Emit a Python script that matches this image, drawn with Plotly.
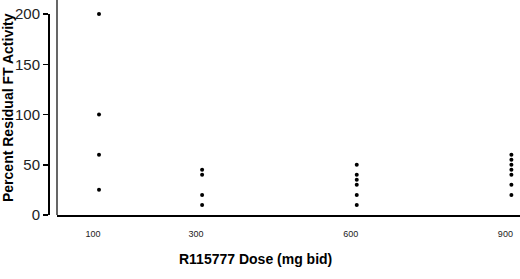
import plotly.graph_objects as go

# Data
dose_100 = [200, 100, 60, 25]
dose_300 = [45, 40, 20, 10]
dose_600 = [50, 40, 35, 30, 20, 10]
dose_900 = [60, 55, 50, 45, 40, 30, 20]
doses = [100, 300, 600, 900]
tick_labels = ["100", "300", "600", "900"]
y_ticks = [0, 50, 100, 150, 200]

groups = [dose_100, dose_300, dose_600, dose_900]
xs, ys = [], []
for d, vals in zip(doses, groups):
    xs += [d] * len(vals)
    ys += vals

FONT = "Arial, Liberation Sans, sans-serif"

fig = go.Figure()
fig.add_trace(go.Scatter(
    x=xs, y=ys, mode="markers",
    marker=dict(color="black", size=4),
    showlegend=False, cliponaxis=False, hoverinfo="skip",
))

fig.update_layout(
    width=520, height=279,
    margin=dict(l=48, r=0, t=14, b=64, autoexpand=False),
    plot_bgcolor="white", paper_bgcolor="white",
    font=dict(family=FONT, color="black"),
    xaxis=dict(
        domain=[9 / 472, 1],
        range=[18.5, 916.7],
        tickvals=doses, ticktext=tick_labels,
        showline=True, linecolor="black", linewidth=2,
        showgrid=False, zeroline=False, automargin=False,
        ticks="", tickfont=dict(size=9, color="#222"),
        ticklabelstandoff=9, ticklabelshift=-6,
    ),
    yaxis=dict(
        range=[0, 200],
        anchor="free", position=0,
        tickvals=y_ticks, automargin=False,
        showline=True, linecolor="black", linewidth=1.5,
        ticks="outside", ticklen=5, tickwidth=1.5, tickcolor="black",
        showgrid=False, zeroline=False,
        tickfont=dict(size=15, color="#222"),
    ),
    shapes=[dict(
        type="line", xref="x domain", yref="paper",
        x0=0, x1=0, y0=0, y1=215 / 201,
        line=dict(color="black", width=1.2),
    )],
    annotations=[
        dict(text="<b>Percent Residual FT Activity</b>", textangle=-90,
             xref="paper", yref="paper", x=0, y=(215 - 108) / 201,
             xshift=-40, xanchor="center", yanchor="middle",
             showarrow=False, font=dict(size=14, family=FONT, color="black")),
        dict(text="<b>R115777 Dose (mg bid)</b>",
             xref="paper", yref="paper", x=(255 - 48) / 472, y=(215 - 259) / 201,
             xanchor="center", yanchor="middle",
             showarrow=False, font=dict(size=14, family=FONT, color="black")),
    ],
)

fig.write_html(
    "out.html",
    config={"displayModeBar": False, "staticPlot": True},
    post_script="document.body.style.margin='0';document.body.style.overflow='hidden';",
)
